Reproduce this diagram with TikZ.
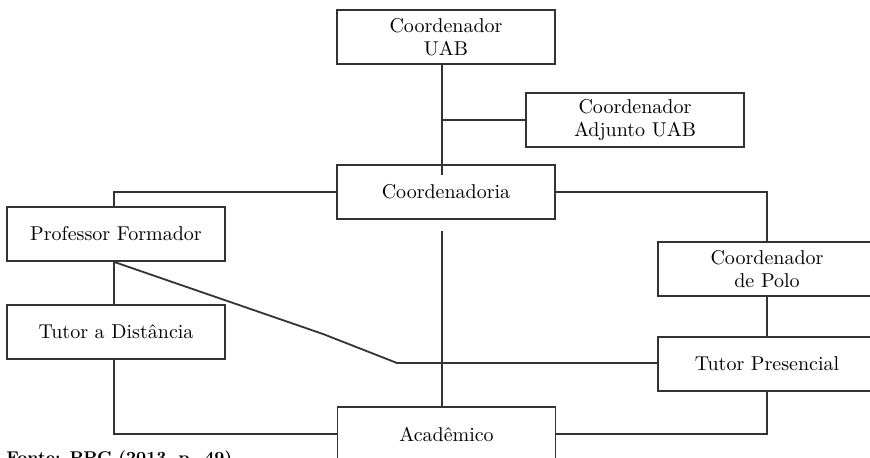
\documentclass[tikz,border=0pt]{standalone}
\usetikzlibrary{calc}
\begin{document}
\begin{tikzpicture}[x=0.5pt,y=-0.5pt,
  box/.style={draw=black!80,line width=0.9pt,fill=white,minimum width=109pt,minimum height=27pt,inner sep=0pt,align=center,font=\fontsize{10}{11.5}\selectfont},
  conn/.style={draw=black!80,line width=0.9pt}]
\useasboundingbox (0,0) rectangle (870,458);
\clip (0,0) rectangle (870,458);
% connectors behind boxes where they end
\coordinate (vx) at (442,0);
\coordinate (lx) at (114,0);
\coordinate (j1) at (442,120);
\coordinate (j2) at (442,175);
\coordinate (j3) at (442,231);
\coordinate (d1) at (323,334);
\coordinate (d2) at (397,363);
\node[box] (uab) at (446,37) {Coordenador\\UAB};
\node[box] (adj) at (635,120) {Coordenador\\Adjunto UAB};
\node[box] (coord) at (446,192) {Coordenadoria};
\node[box] (prof) at (116,234) {Professor Formador};
\node[box] (tdist) at (116,332) {Tutor a Dist\^ancia};
\node[box] (polo) at (767,269) {Coordenador\\de Polo};
\node[box] (tpres) at (767,364) {Tutor Presencial};
\node[box] (acad) at (446.5,434) {Acad\^emico};
\draw[conn] (uab.south -| vx) -- (j2);
\draw[conn] (j1) -- (adj.west);
\draw[conn] (coord.west) -| (prof.north -| lx);
\draw[conn] (coord.east) -| (polo.north);
\draw[conn] (j3) -- (acad.north -| vx);
\draw[conn] (prof.south -| lx) -- (tdist.north -| lx);
\draw[conn] (prof.south -| lx) -- (d1) -- (d2) -- (tpres.west |- d2);
\draw[conn] (tdist.south -| lx) |- (acad.west);
\draw[conn] (polo.south) -- (tpres.north);
\draw[conn] (tpres.south) |- (acad.east);
\node[anchor=base west,inner sep=0pt,font=\fontsize{8.5}{10}\bfseries] (fonte) at (6,463) {Fonte: PPC (2013, p. 49)};
\end{tikzpicture}
\end{document}
